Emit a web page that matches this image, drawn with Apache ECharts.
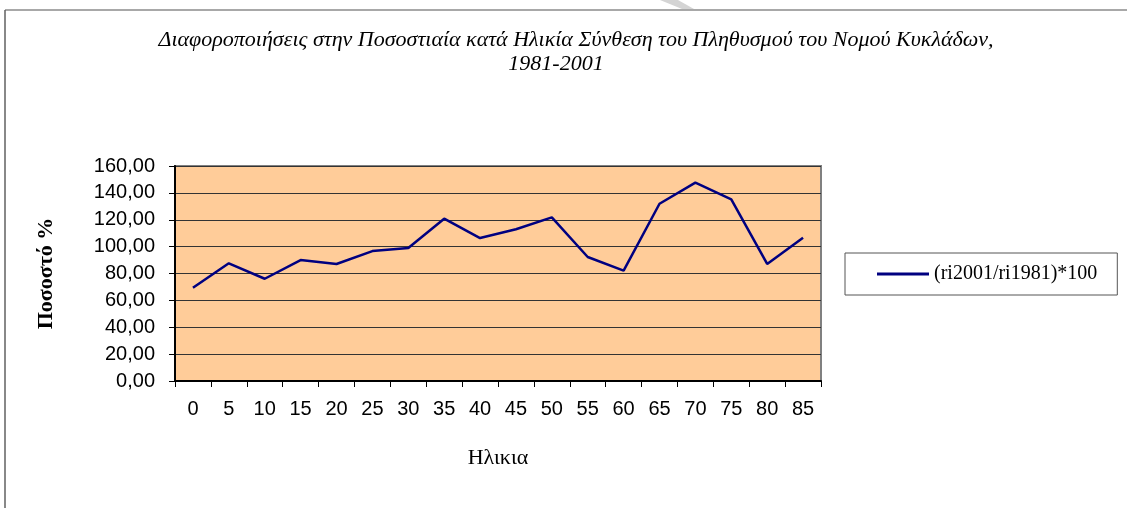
<!DOCTYPE html>
<html>
<head>
<meta charset="utf-8">
<script src="https://cdn.jsdelivr.net/npm/echarts@6/dist/echarts.min.js"></script>
<style>
  html, body { margin: 0; padding: 0; background: #fff; }
  #chart { width: 1127px; height: 508px; }
</style>
</head>
<body>
<div id="chart"></div>
<script>
    // ηλικίες (κατηγορίες x)
    var ages = ['0', '5', '10', '15', '20', '25', '30', '35', '40', '45', '50', '55', '60', '65', '70', '75', '80', '85'];
    // (ri2001/ri1981)*100
    var ratio = [69.4, 87.6, 76.1, 90.0, 87.1, 96.7, 99.0, 120.8, 106.4, 112.9, 121.8, 92.3, 82.1, 131.9, 147.6, 135.2, 87.1, 106.6];
    var seriesName = '(ri2001/ri1981)*100';
    var titleLines = ['Διαφοροποιήσεις στην Ποσοστιαία κατά Ηλικία Σύνθεση του Πληθυσμού του Νομού Κυκλάδων,', '1981-2001'];

    var chart = echarts.init(document.getElementById('chart'));

    var option = {
        backgroundColor: '#fff',
        animation: false,
        title: [{
            text: titleLines[0],
            left: 571, top: 24, textAlign: 'center',
            textStyle: { fontFamily: 'Liberation Serif', fontStyle: 'italic', fontWeight: 'normal', fontSize: 22, color: '#000' }
        }, {
            text: titleLines[1],
            left: 551, top: 48, textAlign: 'center',
            textStyle: { fontFamily: 'Liberation Serif', fontStyle: 'italic', fontWeight: 'normal', fontSize: 22, color: '#000' }
        }],
        legend: {
            data: [seriesName],
            left: 845, top: 253,
            width: 275, height: 44,
            padding: [11, 20, 11, 32],
            borderColor: '#555', borderWidth: 1,
            itemWidth: 52, itemHeight: 3, itemGap: 0,
            icon: 'rect',
            textStyle: { fontFamily: 'Liberation Serif', fontSize: 20, color: '#000', padding: [0, 0, 0, 0] }
        },
        grid: { left: 175, right: 306, top: 166, bottom: 127, show: true, backgroundColor: '#FFCC99', borderColor: '#808080', borderWidth: 2 },
        xAxis: {
            type: 'category',
            data: ages,
            boundaryGap: true,
            name: 'Ηλικια',
            nameLocation: 'middle',
            nameGap: 66,
            nameTextStyle: { fontFamily: 'Liberation Serif', fontSize: 22, color: '#000' },
            axisLine: { lineStyle: { color: '#000', width: 2 } },
            axisTick: { show: true, length: 6, lineStyle: { color: '#000' } },
            axisLabel: { fontFamily: 'Liberation Sans', fontSize: 20, color: '#000', margin: 18 }
        },
        yAxis: {
            type: 'value',
            min: 0, max: 160, interval: 20,
            name: 'Ποσοστό %',
            nameLocation: 'middle',
            nameGap: 118,
            nameRotate: 90,
            nameTextStyle: { fontFamily: 'Liberation Serif', fontWeight: 'bold', fontSize: 22, color: '#000' },
            axisLine: { show: true, lineStyle: { color: '#000', width: 2 } },
            axisTick: { show: true, length: 6, lineStyle: { color: '#000' } },
            axisLabel: {
                fontFamily: 'Liberation Sans', fontSize: 20, color: '#000', margin: 20,
                formatter: function (v) { return v.toFixed(2).replace('.', ','); }
            },
            splitLine: { lineStyle: { color: '#333', width: 1 } }
        },
        series: [{
            name: seriesName,
            type: 'line',
            data: ratio,
            symbol: 'none',
            lineStyle: { color: '#000080', width: 2.5 },
            itemStyle: { color: '#000080' }
        }],
        graphic: [
            // πλαίσιο γραφήματος
            { type: 'line', shape: { x1: 5, y1: 10, x2: 1127, y2: 10 }, style: { stroke: '#a8a8a8', lineWidth: 2 } },
            { type: 'line', shape: { x1: 5, y1: 10, x2: 5, y2: 508 }, style: { stroke: '#606060', lineWidth: 1.5 } },
            { type: 'polygon', shape: { points: [[660, 0], [678, 0], [694, 9], [682, 9]] }, style: { fill: '#d4d4d4' } }
        ]
    };

    chart.setOption(option);
</script>
</body>
</html>
